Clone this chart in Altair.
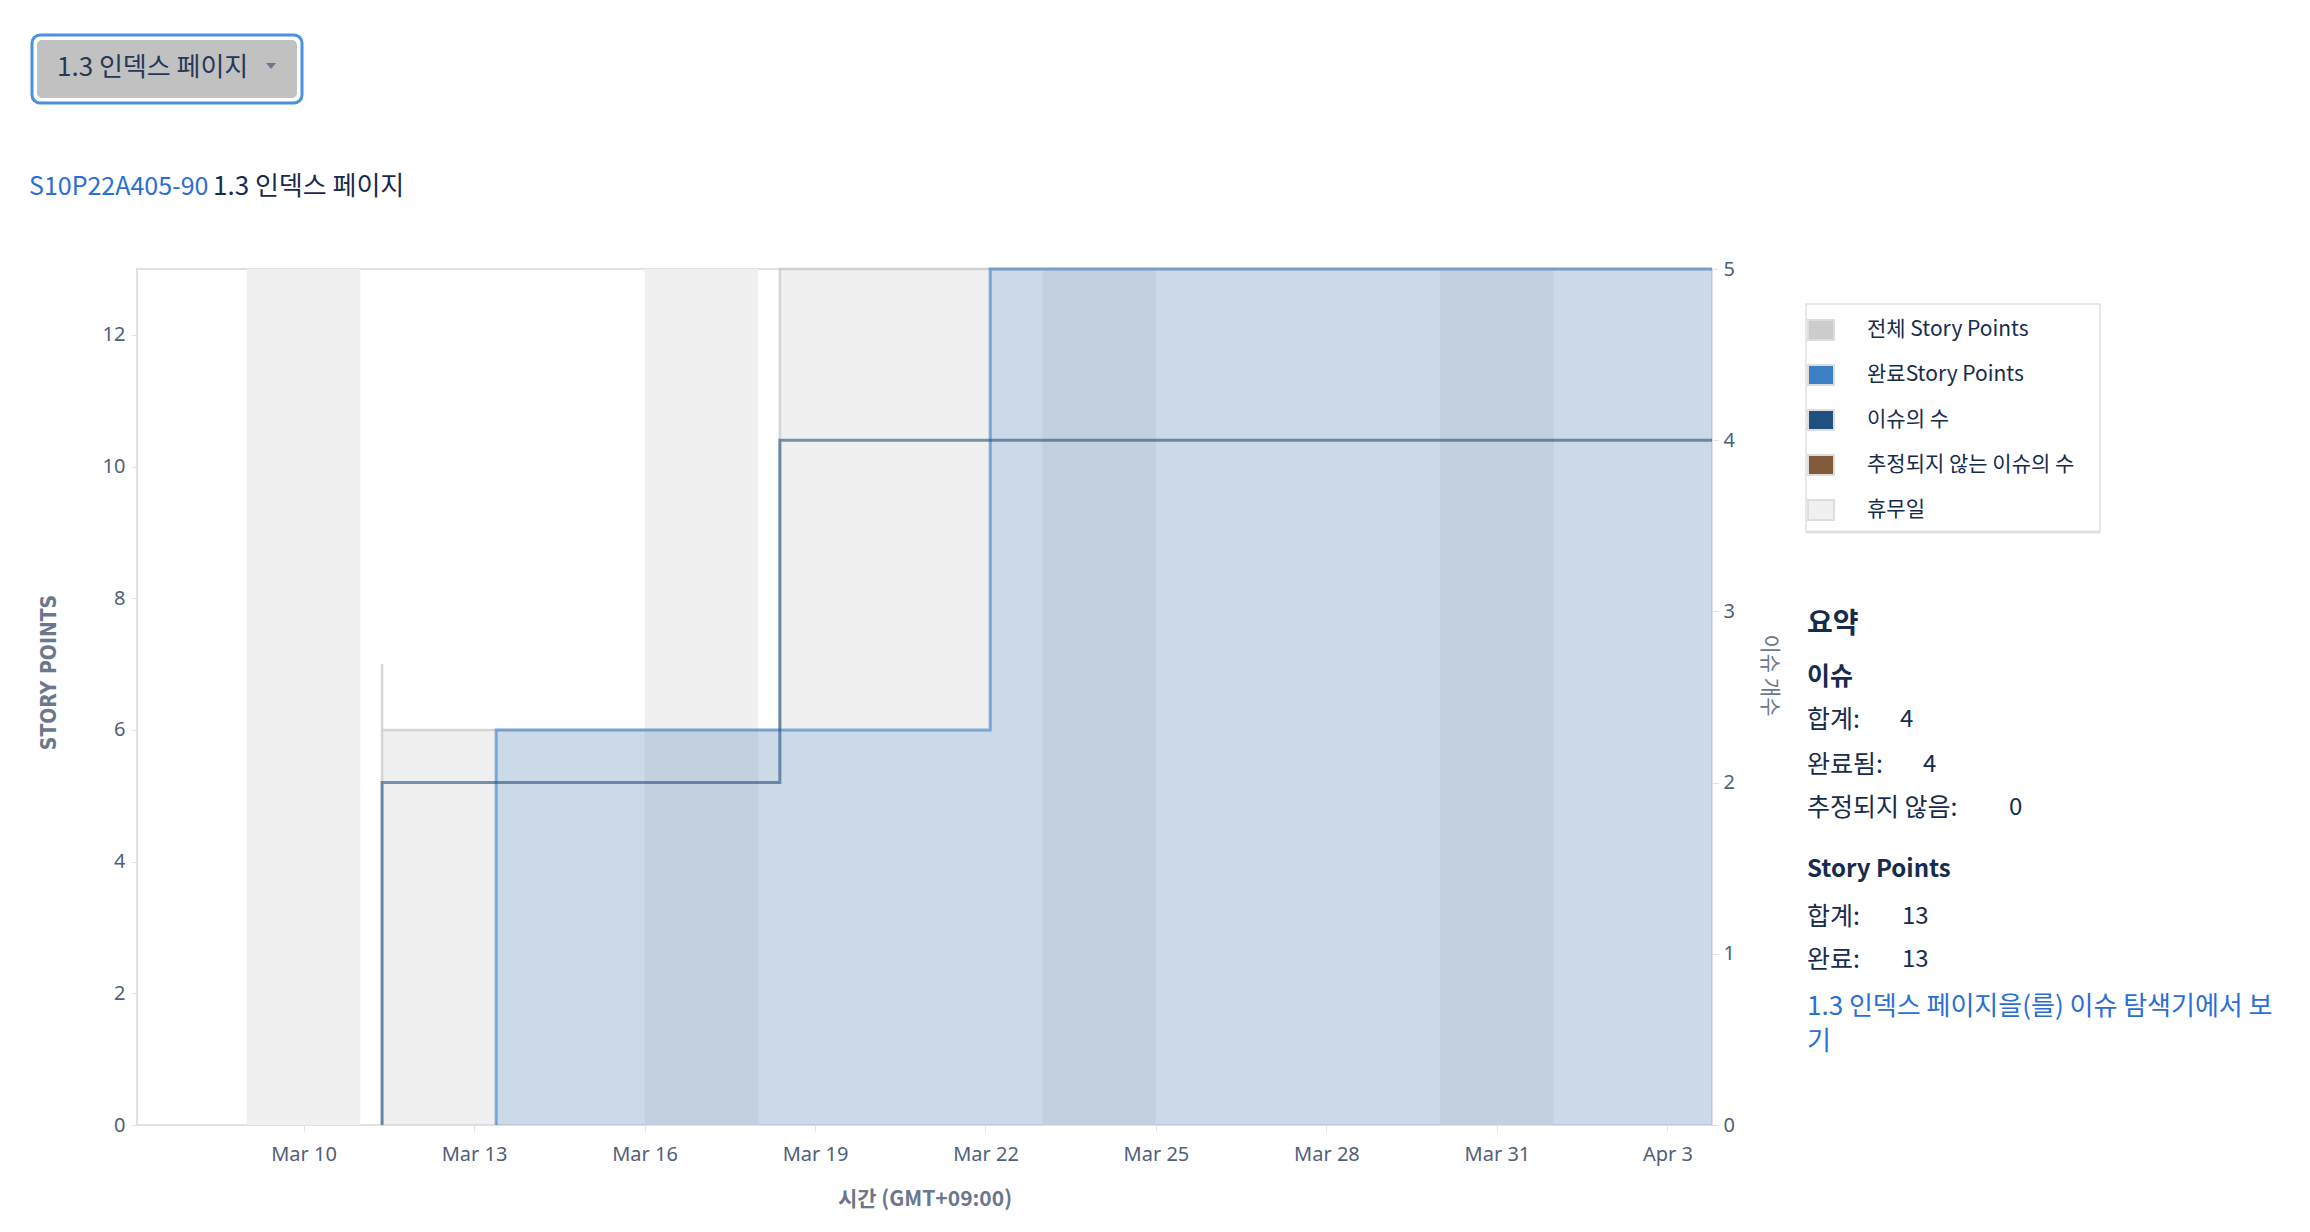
import altair as alt
import pandas as pd

# legend entries and their swatch colours, in the order shown
legend_labels = ["전체 Story Points", "완료Story Points", "이슈의 수", "추정되지 않는 이슈의 수", "휴무일"]
legend_colors = ["#cccccc", "#3b7fc4", "#205081", "#815b3a", "#f0f0f0"]

# non-working days (weekends)
holiday_start = ["2024-03-09T00:00", "2024-03-16T00:00", "2024-03-23T00:00", "2024-03-30T00:00"]
holiday_end = ["2024-03-11T00:00", "2024-03-18T00:00", "2024-03-25T00:00", "2024-04-01T00:00"]

sprint_end = "2024-04-03T18:50"

# step series: repeated times are instant jumps
total_time = ["2024-03-11T09:10", "2024-03-11T09:10", "2024-03-11T09:10", "2024-03-18T09:10", sprint_end]
total_points = [0, 7, 6, 13, 13]

done_time = ["2024-03-13T09:20", "2024-03-13T09:20", "2024-03-22T02:00", sprint_end]
done_points = [0, 6, 13, 13]

issue_time = ["2024-03-11T09:10", "2024-03-11T09:10", "2024-03-18T09:10", sprint_end]
issue_count = [0, 2, 4, 4]

tick_days = [(3, 10), (3, 13), (3, 16), (3, 19), (3, 22), (3, 25), (3, 28), (3, 31), (4, 3)]

# page texts
dropdown_text = "1.3 인덱스 페이지"
issue_key = "S10P22A405-90"
issue_title = "1.3 인덱스 페이지"
summary_heads = ["요약", "이슈", "Story Points"]
issue_rows = ["합계:", "완료됨:", "추정되지 않음:"]
issue_vals = ["4", "4", "0"]
point_rows = ["합계:", "완료:"]
point_vals = ["13", "13"]
link_lines = ["1.3 인덱스 페이지을(를) 이슈 탐색기에서 보", "기"]

KR = "Noto Sans CJK KR"
NARROW = "Liberation Sans Narrow, DejaVu Sans Condensed, sans-serif"
INK = "#172b4d"
LINK = "#2a6ed6"
MUTED = "#6b778c"
EDGE = "#dfe1e6"

# plot area, page pixels
OX, OY = 137, 269
W, H = 1575, 856


def step_frame(times, values):
    return pd.DataFrame({"t": times, "v": values, "i": list(range(len(times)))})


def label(text, x, y, size=24, weight="normal", color=INK, font=KR):
    """Plain text placed at page pixel (x, y), left aligned, vertically centred."""
    return (
        alt.Chart(alt.Data(values=[{"t": text}]))
        .mark_text(align="left", baseline="middle", font=font, fontSize=size, fontWeight=weight, color=color)
        .encode(text="t:N", x=alt.value(x - OX), y=alt.value(y - OY))
    )


def box(x, x2, y, y2, **style):
    return (
        alt.Chart(alt.Data(values=[{}]))
        .mark_rect(**style)
        .encode(x=alt.value(x - OX), x2=alt.value(x2 - OX), y=alt.value(y - OY), y2=alt.value(y2 - OY))
    )


x_scale = alt.Scale(
    domain=[
        alt.DateTime(year=2024, month=3, date=7, hours=1, minutes=40),
        alt.DateTime(year=2024, month=4, date=3, hours=18, minutes=50),
    ]
)
x_axis = alt.Axis(
    values=[alt.DateTime(year=2024, month=m, date=d) for m, d in tick_days],
    format="%b %-d",
    labelPadding=13,
    titleFont=KR,
    titleFontSize=21,
    titleY=74,
    titleBaseline="middle",
)


def x_enc(field):
    return alt.X(field, type="temporal", scale=x_scale, axis=x_axis, title="시간 (GMT+09:00)")


sp_y = alt.Y(
    "v:Q",
    stack=False,
    scale=alt.Scale(domain=[0, 13], nice=False),
    axis=alt.Axis(
        values=list(range(0, 13, 2)),
        labelPadding=6,
        title="STORY POINTS",
        titleFont=NARROW,
        titleFontSize=21,
        titleX=-88,
        titleY=403,
        titleBaseline="middle",
    ),
)

issue_y = alt.Y(
    "v:Q",
    scale=alt.Scale(domain=[0, 5], nice=False),
    axis=alt.Axis(
        orient="right",
        values=[0, 1, 2, 3, 4, 5],
        labelPadding=5,
        title="이슈 개수",
        titleFont=KR,
        titleFontSize=21,
        titleFontWeight="normal",
        titleAngle=90,
        titleX=56,
        titleY=406,
        titleBaseline="middle",
    ),
)

legend = alt.Legend(
    title=None,
    orient="none",
    legendX=1673,
    legendY=50,
    padding=0,
    symbolType="M-1.3,-1H1.3V1H-1.3Z",
    symbolSize=400,
    symbolStrokeColor="#dddddd",
    symbolStrokeWidth=2,
    symbolOpacity=1,
    labelFont=KR,
    labelFontSize=21,
    labelColor=INK,
    labelOffset=35,
    labelLimit=400,
    rowPadding=17,
)

holidays = (
    alt.Chart(pd.DataFrame({"s": holiday_start, "e": holiday_end, "kind": "휴무일"}))
    .mark_rect()
    .encode(
        x=x_enc("s"),
        x2="e:T",
        color=alt.Color("kind:N", scale=alt.Scale(domain=legend_labels, range=legend_colors), legend=legend),
    )
)

total = alt.Chart(step_frame(total_time, total_points))
done = alt.Chart(step_frame(done_time, done_points))
story = alt.layer(
    total.mark_area(interpolate="step-after", color="#cccccc", opacity=0.3).encode(x=x_enc("t"), y=sp_y),
    done.mark_area(interpolate="step-after", color="#3b7fc4", opacity=0.2).encode(x=x_enc("t"), y=sp_y),
    total.mark_line(interpolate="step-after", color="#cccccc", opacity=0.8, strokeWidth=2.5).encode(
        x=x_enc("t"), y=sp_y, order="i:Q"
    ),
    done.mark_line(interpolate="step-after", color="#3b7fc4", opacity=0.6, strokeWidth=3).encode(
        x=x_enc("t"), y=sp_y, order="i:Q"
    ),
)

issues = (
    alt.Chart(step_frame(issue_time, issue_count))
    .mark_line(interpolate="step-after", color="#205081", opacity=0.6, strokeWidth=3)
    .encode(x=x_enc("t"), y=issue_y, order="i:Q")
)

caret = (
    alt.Chart(alt.Data(values=[{}]))
    .mark_point(shape="M-1,-0.6L1,-0.6L0,0.6Z", filled=True, size=100, color=MUTED, opacity=1)
    .encode(x=alt.value(271 - OX), y=alt.value(66 - OY))
)

decor = [
    # dropdown button
    box(32, 302, 35, 103, fill="white", stroke="#4a90e2", strokeWidth=3, cornerRadius=8),
    box(37, 297, 40, 98, fill="#c1c1c1", cornerRadius=5),
    label(dropdown_text, 57, 68, size=26, color="#253858"),
    caret,
    # issue heading
    label(issue_key, 29, 187, size=25, color=LINK),
    label(issue_title, 213, 187, size=26),
    # legend frame
    box(1806, 2100, 304, 532, fill="white", stroke=EDGE, strokeWidth=1.5),
    alt.Chart(alt.Data(values=[{}]))
    .mark_rule(color=EDGE, strokeWidth=3)
    .encode(x=alt.value(1806 - OX), x2=alt.value(2100 - OX), y=alt.value(532 - OY)),
    # summary
    label(summary_heads[0], 1807, 625, size=28, weight="bold"),
    label(summary_heads[1], 1807, 677, size=25, weight="bold"),
    label(issue_rows[0], 1807, 720, size=25),
    label(issue_vals[0], 1900, 720),
    label(issue_rows[1], 1807, 765, size=25),
    label(issue_vals[1], 1923, 765),
    label(issue_rows[2], 1807, 808, size=25),
    label(issue_vals[2], 2009, 808),
    label(summary_heads[2], 1807, 870, size=24, weight="bold"),
    label(point_rows[0], 1807, 917, size=25),
    label(point_vals[0], 1902, 917),
    label(point_rows[1], 1807, 960, size=25),
    label(point_vals[1], 1902, 960),
    label(link_lines[0], 1807, 1007, size=26, color=LINK),
    label(link_lines[1], 1807, 1042, size=26, color=LINK),
]

chart = (
    alt.layer(holidays, story, issues, *decor)
    .resolve_scale(y="independent")
    .properties(
        width=W,
        height=H,
        autosize=alt.AutoSizeParams(type="none"),
        padding={"left": 129, "top": 261, "right": 590, "bottom": 88},
    )
    .configure_view(stroke=EDGE, strokeWidth=2)
    .configure_axis(
        domain=False,
        grid=False,
        tickColor=EDGE,
        tickSize=6,
        labelFont="Noto Sans",
        labelFontSize=20,
        labelColor="#505f79",
        titleColor=MUTED,
        titleFontWeight="bold",
    )
)

chart.save("out.html", embed_options={"renderer": "svg", "actions": False})
